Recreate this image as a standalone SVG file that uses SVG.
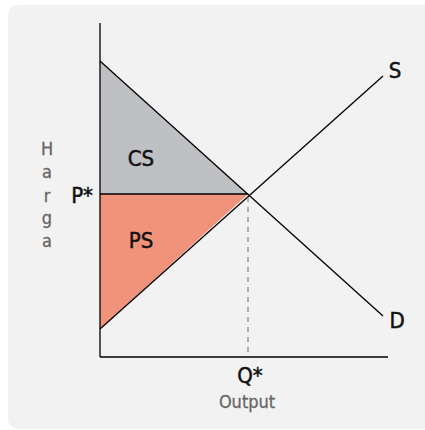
<svg xmlns="http://www.w3.org/2000/svg" width="425" height="430" viewBox="0 0 425 430">
<style>
.ln{stroke:#000;stroke-width:1.3;fill:none}
.lb{font-family:"DejaVu Sans Condensed","Liberation Sans Narrow",sans-serif;font-size:22px;fill:#111;stroke:#111;stroke-width:0.5}
.ax{font-family:"DejaVu Sans Condensed","Liberation Sans Narrow",sans-serif;font-size:18px;fill:#666;stroke:#666;stroke-width:0.3}
</style>
<rect x="8" y="5" width="430" height="424" rx="10" fill="#f2f2f2"/>
<g id="cs"><polygon points="100,61 248,194 100,194" fill="#bfc0c3"/><text class="lb" x="141" y="166" text-anchor="middle">CS</text></g>
<g id="ps"><polygon points="100,194 248,194 100,329" fill="#f0937a"/><text class="lb" x="141" y="248" text-anchor="middle">PS</text></g>
<g id="connectors">
<line class="ln" x1="100" y1="23" x2="100" y2="357"/>
<line class="ln" x1="100" y1="357" x2="388" y2="357"/>
<line class="ln" x1="100" y1="61" x2="383" y2="316"/>
<line class="ln" x1="100" y1="329" x2="383" y2="76"/>
<line class="ln" x1="100" y1="194" x2="248" y2="194"/>
<line x1="248" y1="197" x2="248" y2="357" stroke="#666" stroke-width="1" stroke-dasharray="5,5"/>
</g>
<g id="labels">
<text class="lb" x="395" y="78" text-anchor="middle">S</text>
<text class="lb" x="397" y="328" text-anchor="middle">D</text>
<text class="lb" x="93" y="203" text-anchor="end">P*</text>
<text class="lb" x="250" y="383" text-anchor="middle">Q*</text>
<text class="ax" x="247" y="408" text-anchor="middle">Output</text>
<g class="ax" text-anchor="middle">
<text x="47" y="155">H</text><text x="47" y="178">a</text><text x="47" y="202">r</text><text x="47" y="224">g</text><text x="47" y="247">a</text>
</g>
</g>
</svg>
